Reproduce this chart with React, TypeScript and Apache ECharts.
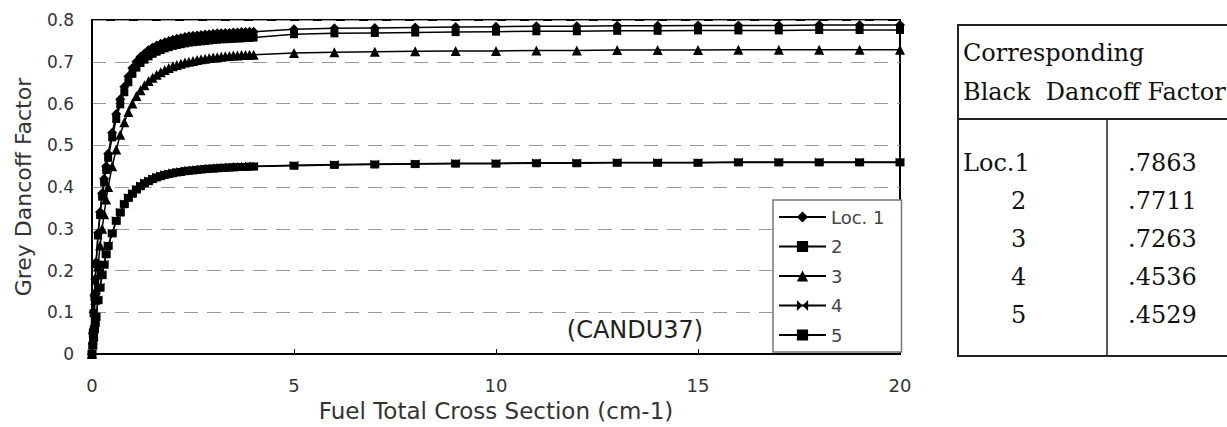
import React, { useEffect, useRef } from "react";
import * as echarts from "echarts";

const xValues = [0, 0.02, 0.04, 0.06, 0.08, 0.1, 0.15, 0.2, 0.25, 0.3, 0.35, 0.4,
  0.5, 0.6, 0.7, 0.8, 0.9, 1.0,
  1.1, 1.2, 1.3, 1.4, 1.5, 1.6, 1.7, 1.8, 1.9, 2.0,
  2.1, 2.2, 2.3, 2.4, 2.5, 2.6, 2.7, 2.8, 2.9, 3.0,
  3.1, 3.2, 3.3, 3.4, 3.5, 3.6, 3.7, 3.8, 3.9, 4.0,
  5, 6, 7, 8, 9, 10, 11, 12, 13, 14, 15, 16, 17, 18, 19, 20];

const loc1 = [0, 0.05, 0.10, 0.14, 0.18, 0.22, 0.29, 0.34, 0.385, 0.42, 0.45, 0.48,
  0.53, 0.575, 0.61, 0.64, 0.665, 0.685,
  0.70, 0.712, 0.72, 0.728, 0.734, 0.739, 0.743, 0.747, 0.750, 0.753,
  0.755, 0.757, 0.759, 0.761, 0.762, 0.763, 0.764, 0.765, 0.766, 0.767,
  0.768, 0.768, 0.769, 0.769, 0.770, 0.770, 0.771, 0.771, 0.772, 0.772,
  0.778, 0.780, 0.781, 0.782, 0.783, 0.784, 0.785, 0.785, 0.786, 0.786, 0.787, 0.787, 0.787, 0.788, 0.788, 0.788];

const loc2 = [0, 0.049, 0.098, 0.137, 0.176, 0.215, 0.284, 0.333, 0.377, 0.411, 0.441, 0.47,
  0.519, 0.563, 0.598, 0.627, 0.651, 0.671,
  0.686, 0.697, 0.705, 0.713, 0.719, 0.724, 0.728, 0.732, 0.735, 0.738,
  0.740, 0.742, 0.744, 0.746, 0.747, 0.748, 0.749, 0.750, 0.751, 0.752,
  0.753, 0.754, 0.754, 0.755, 0.755, 0.756, 0.756, 0.757, 0.757, 0.758,
  0.766, 0.768, 0.769, 0.770, 0.771, 0.772, 0.773, 0.773, 0.774, 0.774, 0.775, 0.775, 0.775, 0.776, 0.776, 0.776];

const loc3 = [0, 0.035, 0.07, 0.10, 0.13, 0.155, 0.21, 0.26, 0.30, 0.335, 0.37, 0.40,
  0.45, 0.49, 0.525, 0.555, 0.58, 0.60,
  0.618, 0.632, 0.644, 0.654, 0.662, 0.669, 0.675, 0.68, 0.685, 0.689,
  0.692, 0.695, 0.698, 0.700, 0.702, 0.704, 0.706, 0.707, 0.709, 0.710,
  0.711, 0.712, 0.713, 0.714, 0.715, 0.715, 0.716, 0.716, 0.717, 0.717,
  0.721, 0.723, 0.724, 0.725, 0.726, 0.726, 0.727, 0.727, 0.728, 0.728, 0.728, 0.729, 0.729, 0.729, 0.729, 0.729];

const loc4 = [0, 0.02, 0.04, 0.06, 0.075, 0.09, 0.13, 0.16, 0.19, 0.215, 0.24, 0.26,
  0.29, 0.32, 0.34, 0.36, 0.375, 0.385,
  0.395, 0.403, 0.41, 0.415, 0.42, 0.424, 0.427, 0.43, 0.432, 0.434,
  0.436, 0.437, 0.439, 0.44, 0.441, 0.442, 0.443, 0.444, 0.445, 0.445,
  0.446, 0.447, 0.447, 0.448, 0.448, 0.449, 0.449, 0.449, 0.45, 0.45,
  0.452, 0.454, 0.455, 0.456, 0.457, 0.457, 0.458, 0.458, 0.459, 0.459, 0.459, 0.46, 0.46, 0.46, 0.46, 0.46];

const loc5 = [0, 0.02, 0.039, 0.059, 0.074, 0.089, 0.129, 0.159, 0.189, 0.214, 0.239, 0.259,
  0.289, 0.319, 0.339, 0.359, 0.374, 0.384,
  0.394, 0.402, 0.409, 0.414, 0.419, 0.423, 0.426, 0.429, 0.431, 0.433,
  0.435, 0.436, 0.438, 0.439, 0.44, 0.441, 0.442, 0.443, 0.444, 0.444,
  0.445, 0.446, 0.446, 0.447, 0.447, 0.448, 0.448, 0.448, 0.449, 0.449,
  0.451, 0.453, 0.454, 0.455, 0.456, 0.456, 0.457, 0.457, 0.458, 0.458, 0.458, 0.459, 0.459, 0.459, 0.459, 0.459];

const seriesNames = ["Loc. 1", "2", "3", "4", "5"];
const seriesValues = [loc1, loc2, loc3, loc4, loc5];
const seriesSymbols = ["diamond", "rect", "triangle", "path://M0,0L10,10L10,0L0,10Z", "rect"];
const seriesSymbolSizes = [10, 8, 10, 9, 8];

const tableHeader = ["Corresponding", "Black  Dancoff Factor"];
const tableLabels = ["Loc.1", "2", "3", "4", "5"];
const tableValues = [".7863", ".7711", ".7263", ".4536", ".4529"];

const xTicks = { min: 0, max: 20, interval: 5 };
const yTicks = { min: 0, max: 0.8, interval: 0.1 };

const SANS = "DejaVu Sans";
const SERIF = "DejaVu Serif";

export default function App() {
  const ref = useRef<HTMLDivElement>(null);
  useEffect(() => {
    if (!ref.current) return;
    const chart = echarts.init(ref.current, undefined, { renderer: "svg" });

    const series = seriesNames.map((name, k) => ({
      name,
      type: "line",
      data: xValues.map((x, i) => [x, seriesValues[k][i]]),
      symbol: seriesSymbols[k],
      symbolSize: seriesSymbolSizes[k],
      showAllSymbol: true,
      lineStyle: { color: "#000", width: 1.5 },
      itemStyle: { color: "#000" },
      z: 3,
    }));

    const rowY = [163, 201, 239, 277, 315];
    const tableText: any[] = [];
    tableText.push({
      type: "text", x: 963, y: 53, z: 10,
      style: { text: tableHeader[0], font: `24px '${SERIF}'`, fill: "#111", align: "left", verticalAlign: "middle" },
    });
    tableText.push({
      type: "text", x: 963, y: 92, z: 10,
      style: { text: tableHeader[1], font: `24px '${SERIF}'`, fill: "#111", align: "left", verticalAlign: "middle" },
    });
    tableLabels.forEach((lab, i) => {
      tableText.push({
        type: "text",
        x: i === 0 ? 963 : 1011,
        y: rowY[i],
        z: 10,
        style: {
          text: lab, font: `24px '${SERIF}'`, fill: "#111",
          align: "left", verticalAlign: "middle",
        },
      });
      tableText.push({
        type: "text", x: 1128, y: rowY[i], z: 10,
        style: { text: tableValues[i], font: `24px '${SERIF}'`, fill: "#111", align: "left", verticalAlign: "middle" },
      });
    });

    chart.setOption({
      animation: false,
      backgroundColor: "#fff",
      grid: {
        left: 92, right: 327, top: 20, bottom: 70,
        show: true, borderColor: "#000", borderWidth: 2, backgroundColor: "transparent",
      },
      xAxis: {
        type: "value",
        ...xTicks,
        name: "Fuel Total Cross Section (cm-1)",
        nameLocation: "middle",
        nameGap: 42,
        nameTextStyle: { fontFamily: SANS, fontSize: 23, color: "#333" },
        axisLine: { show: true, lineStyle: { color: "#000", width: 2 } },
        axisTick: { show: true, inside: true, length: 5, lineStyle: { color: "#000" } },
        axisLabel: { fontFamily: SANS, fontSize: 18, color: "#333", margin: 22 },
        splitLine: { show: false },
      },
      yAxis: {
        type: "value",
        ...yTicks,
        name: "Grey Dancoff Factor",
        nameLocation: "middle",
        nameGap: 58,
        nameTextStyle: { fontFamily: SANS, fontSize: 22, color: "#333" },
        axisLine: { show: true, lineStyle: { color: "#000", width: 2 } },
        axisTick: { show: false },
        axisLabel: {
          fontFamily: SANS, fontSize: 17, color: "#333", margin: 18,
          formatter: (v: number) => (v === 0 ? "0" : v.toFixed(1)),
        },
        splitLine: { show: true, lineStyle: { color: "#999", width: 1.2, type: [14, 9] } },
      },
      legend: {
        orient: "vertical",
        left: 773,
        top: 200,
        padding: [8, 17, 8, 5],
        itemWidth: 47,
        itemHeight: 14,
        itemGap: 11.5,
        backgroundColor: "#fff",
        borderColor: "#777",
        borderWidth: 1.5,
        textStyle: { fontFamily: SANS, fontSize: 18, color: "#444", lineHeight: 16 },
        data: seriesNames,
      },
      graphic: [
        {
          type: "text", x: 635, y: 330,
          style: { text: "(CANDU37)", font: `24px '${SANS}'`, fill: "#222", align: "center", verticalAlign: "middle" },
          z: 5,
        },
        {
          type: "rect",
          shape: { x: 958, y: 25, width: 300, height: 331 },
          style: { fill: "none", stroke: "#222", lineWidth: 2 },
        },
        {
          type: "line",
          shape: { x1: 958, y1: 119, x2: 1227, y2: 119 },
          style: { stroke: "#222", lineWidth: 2 },
        },
        {
          type: "line",
          shape: { x1: 1107, y1: 119, x2: 1107, y2: 356 },
          style: { stroke: "#222", lineWidth: 1.5 },
        },
        ...tableText,
      ],
      series,
    });
    return () => chart.dispose();
  }, []);

  return (
    <div
      ref={ref}
      style={{ position: "fixed", left: 0, top: 0, width: 1227, height: 427, background: "#fff" }}
    />
  );
}
